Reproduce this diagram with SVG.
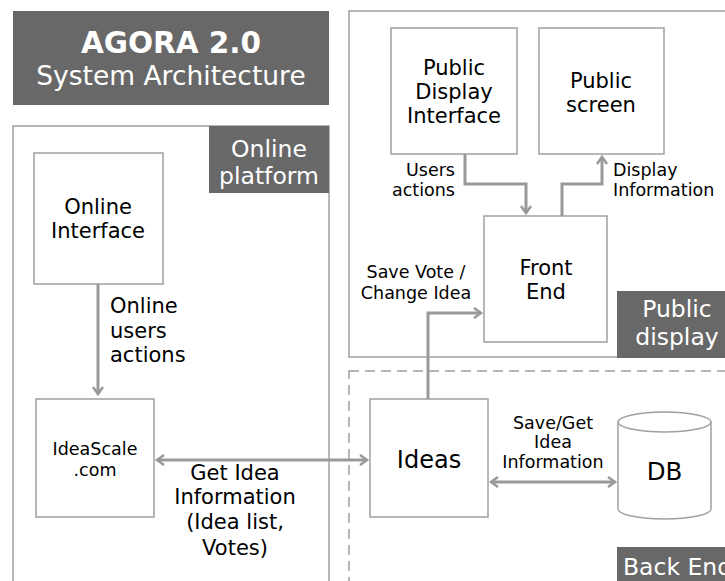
<svg xmlns="http://www.w3.org/2000/svg" width="725" height="581" viewBox="0 0 725 581">
  <style>
    text { font-family: "DejaVu Sans", Verdana, sans-serif; fill: #000; }
    .box { fill: #fff; stroke: #a0a0a0; stroke-width: 1.5; }
    .frame { fill: none; stroke: #a0a0a0; stroke-width: 1.5; }
    .dash { fill: none; stroke: #a0a0a0; stroke-width: 1.5; stroke-dasharray: 10 6; }
    .tag { fill: #686868; }
    .tagtext { fill: #fff; font-size: 23.5px; text-anchor: middle; }
    .wire { fill: none; stroke: #999; stroke-width: 3; }
    .lbl { font-size: 17.5px; }
    .big { font-size: 21px; }
    .mid { text-anchor: middle; }
  </style>
  <defs>
    <marker id="head" markerWidth="12" markerHeight="12" refX="9" refY="6" orient="auto-start-reverse" markerUnits="userSpaceOnUse">
      <path d="M2,1 L9,6 L2,11" fill="none" stroke="#999" stroke-width="2.5"/>
    </marker>
  </defs>

  <!-- Title -->
  <g id="title">
    <rect x="13" y="11" width="316" height="94" class="tag"/>
    <text x="171" y="53" class="mid" style="fill:#fff;font-size:29.5px;font-weight:bold">AGORA 2.0</text>
    <text x="171" y="85" class="mid" style="fill:#fff;font-size:26.5px">System Architecture</text>
  </g>

  <!-- Region frames -->
  <g id="online-platform">
    <rect x="13" y="126" width="316" height="470" class="frame"/>
    <rect x="209" y="126" width="120" height="67" class="tag"/>
    <text x="269" y="157" class="tagtext">Online</text>
    <text x="269" y="184" class="tagtext">platform</text>
  </g>
  <g id="public-display">
    <rect x="349" y="11" width="390" height="346" class="frame"/>
    <rect x="617" y="291" width="110" height="67" class="tag"/>
    <text x="677" y="317" class="tagtext">Public</text>
    <text x="677" y="345" class="tagtext">display</text>
  </g>
  <g id="back-end">
    <rect x="349" y="371" width="390" height="230" class="dash"/>
    <rect x="617" y="547" width="110" height="36" class="tag"/>
    <text x="623" y="575" class="tagtext" style="text-anchor:start">Back End</text>
  </g>

  <!-- Nodes -->
  <g id="online-interface">
    <rect x="34" y="153" width="129" height="131" class="box"/>
    <text x="98" y="214" class="mid big">Online</text>
    <text x="98" y="238" class="mid big">Interface</text>
  </g>
  <g id="ideascale">
    <rect x="36" y="399" width="118" height="118" class="box"/>
    <text x="95" y="455" class="mid lbl">IdeaScale</text>
    <text x="95" y="476" class="mid lbl">.com</text>
  </g>
  <g id="public-display-interface">
    <rect x="391" y="28" width="126" height="126" class="box"/>
    <text x="454" y="75" class="mid big">Public</text>
    <text x="454" y="99" class="mid big">Display</text>
    <text x="454" y="123" class="mid big">Interface</text>
  </g>
  <g id="public-screen">
    <rect x="539" y="28" width="125" height="126" class="box"/>
    <text x="601" y="88" class="mid big">Public</text>
    <text x="601" y="112" class="mid big">screen</text>
  </g>
  <g id="front-end">
    <rect x="484" y="216" width="123" height="126" class="box"/>
    <text x="546" y="275" class="mid big">Front</text>
    <text x="546" y="299" class="mid big">End</text>
  </g>
  <g id="ideas">
    <rect x="370" y="399" width="118" height="118" class="box"/>
    <text x="429" y="468" class="mid" style="font-size:24px">Ideas</text>
  </g>
  <g id="db">
    <path d="M618,422 L618,509 A46.5,10 0 0 0 711,509 L711,422" class="box"/>
    <ellipse cx="664.5" cy="422" rx="46.5" ry="10" class="box"/>
    <text x="664.5" y="480" class="mid" style="font-size:24.5px">DB</text>
  </g>

  <!-- Connectors -->
  <g id="connectors">
    <path d="M98,284 L98,394" class="wire" marker-end="url(#head)"/>
    <path d="M157,460 L367,460" class="wire" marker-start="url(#head)" marker-end="url(#head)"/>
    <path d="M465,154 L465,184 L526,184 L526,213" class="wire" marker-end="url(#head)"/>
    <path d="M562,216 L562,184 L602,184 L602,157" class="wire" marker-end="url(#head)"/>
    <path d="M428,399 L428,313 L481,313" class="wire" marker-end="url(#head)"/>
    <path d="M491,482 L615,482" class="wire" marker-start="url(#head)" marker-end="url(#head)"/>
  </g>

  <!-- Connector labels -->
  <g id="labels">
    <text x="110" y="313" class="big">Online</text>
    <text x="110" y="338" class="big">users</text>
    <text x="110" y="362" class="big">actions</text>
    <text x="235" y="480" class="mid big">Get Idea</text>
    <text x="235" y="504" class="mid big">Information</text>
    <text x="235" y="529" class="mid big">(Idea list,</text>
    <text x="235" y="555" class="mid big">Votes)</text>
    <text x="455" y="176" class="lbl" style="text-anchor:end">Users</text>
    <text x="455" y="196" class="lbl" style="text-anchor:end">actions</text>
    <text x="613" y="176" class="lbl">Display</text>
    <text x="613" y="196" class="lbl">Information</text>
    <text x="416" y="278" class="mid lbl">Save Vote /</text>
    <text x="416" y="299" class="mid lbl">Change Idea</text>
    <text x="553" y="429" class="mid lbl">Save/Get</text>
    <text x="553" y="448" class="mid lbl">Idea</text>
    <text x="553" y="468" class="mid lbl">Information</text>
  </g>
</svg>
